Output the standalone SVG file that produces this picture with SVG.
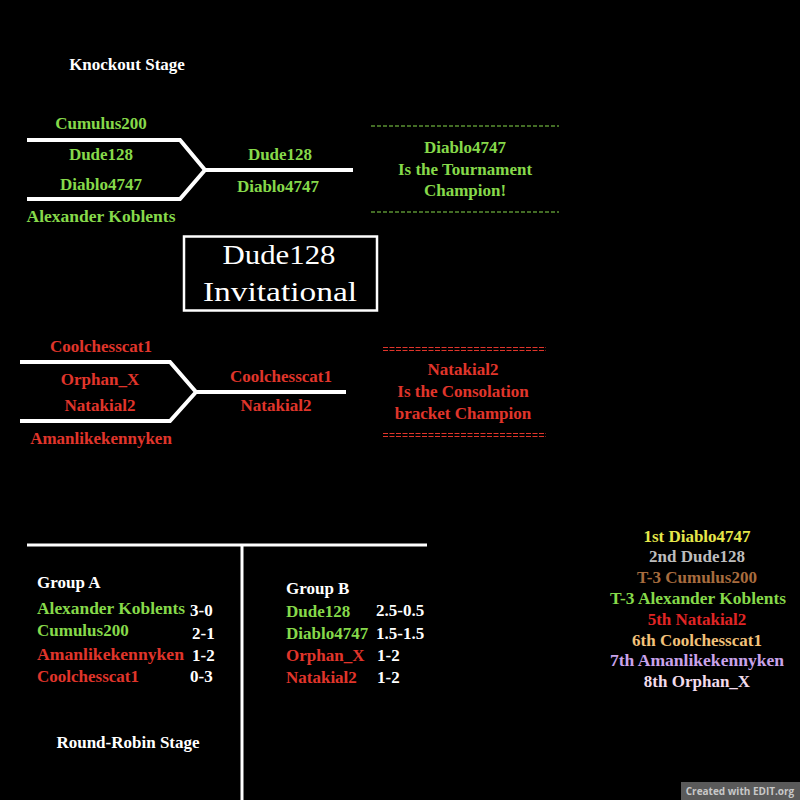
<svg xmlns="http://www.w3.org/2000/svg" width="800" height="800" viewBox="0 0 800 800">
<style>
text{font-family:"Liberation Serif","DejaVu Serif",serif;font-weight:bold;font-size:17px}
.c{text-anchor:middle}
.w{fill:#ffffff}
.g{fill:#86d94a}
.r{fill:#e0352b}
.br{fill:none;stroke:#ffffff;stroke-width:4;stroke-linejoin:miter}
.ln{stroke:#ffffff;stroke-width:3}
.title{font-weight:normal;font-size:27px;fill:#ffffff;text-anchor:middle}
</style>
<rect width="800" height="800" fill="#000000"/>

<g id="headings">
<text class="w c" x="127" y="70" font-size="16">Knockout Stage</text>
<text class="w c" x="128" y="748" font-size="16">Round-Robin Stage</text>
</g>

<g id="connectors">
<polyline class="br" points="27,140 180,140 205,170 180,199 27,199"/>
<line class="br" x1="205" y1="170" x2="353" y2="170"/>
<polyline class="br" points="20,362 170,362 196,392 170,421 20,421"/>
<line class="br" x1="196" y1="392" x2="346" y2="392"/>
<line class="ln" x1="27" y1="545" x2="427" y2="545"/>
<line class="ln" x1="242" y1="545" x2="242" y2="800"/>
</g>

<g id="main-bracket">
<text class="g c" x="101" y="129">Cumulus200</text>
<text class="g c" x="101" y="160">Dude128</text>
<text class="g c" x="101" y="190">Diablo4747</text>
<text class="g c" x="101" y="222" textLength="149" lengthAdjust="spacingAndGlyphs">Alexander Koblents</text>
<text class="g c" x="280" y="160">Dude128</text>
<text class="g c" x="278" y="192">Diablo4747</text>
</g>

<g id="champion">
<line x1="371" y1="126" x2="559" y2="126" stroke="#86d94a" stroke-width="1.2" stroke-dasharray="4,2"/>
<line x1="371" y1="212" x2="559" y2="212" stroke="#86d94a" stroke-width="1.2" stroke-dasharray="4,2"/>
<text class="g c" x="465" y="153">Diablo4747</text>
<text class="g c" x="465" y="175">Is the Tournament</text>
<text class="g c" x="465" y="196">Champion!</text>
</g>

<g id="title">
<rect x="184" y="236.5" width="193" height="74" fill="none" stroke="#ffffff" stroke-width="2.5"/>
<text class="title" x="279" y="264" textLength="113" lengthAdjust="spacingAndGlyphs">Dude128</text>
<text class="title" x="280" y="301" textLength="154" lengthAdjust="spacingAndGlyphs">Invitational</text>
</g>

<g id="consolation-bracket">
<text class="r c" x="101" y="352">Coolchesscat1</text>
<text class="r c" x="100" y="385">Orphan_X</text>
<text class="r c" x="100" y="411">Natakial2</text>
<text class="r c" x="101" y="444">Amanlikekennyken</text>
<text class="r c" x="281" y="382">Coolchesscat1</text>
<text class="r c" x="276" y="411">Natakial2</text>
</g>

<g id="consolation-champion">
<line x1="383" y1="347.5" x2="546" y2="347.5" stroke="#e0352b" stroke-width="1" stroke-dasharray="5,1.5"/>
<line x1="383" y1="350.5" x2="546" y2="350.5" stroke="#e0352b" stroke-width="1" stroke-dasharray="5,1.5"/>
<line x1="383" y1="433.5" x2="546" y2="433.5" stroke="#e0352b" stroke-width="1" stroke-dasharray="5,1.5"/>
<line x1="383" y1="436.5" x2="546" y2="436.5" stroke="#e0352b" stroke-width="1" stroke-dasharray="5,1.5"/>
<text class="r c" x="463" y="375">Natakial2</text>
<text class="r c" x="463" y="397">Is the Consolation</text>
<text class="r c" x="463" y="419">bracket Champion</text>
</g>

<g id="group-a">
<text class="w" x="37" y="588" font-size="16">Group A</text>
<text class="g" x="37" y="614" textLength="148" lengthAdjust="spacingAndGlyphs">Alexander Koblents</text>
<text class="w" x="190" y="616">3-0</text>
<text class="g" x="37" y="636">Cumulus200</text>
<text class="w" x="192" y="639">2-1</text>
<text class="r" x="37" y="660" textLength="147" lengthAdjust="spacingAndGlyphs">Amanlikekennyken</text>
<text class="w" x="192" y="661">1-2</text>
<text class="r" x="37" y="682">Coolchesscat1</text>
<text class="w" x="190" y="682">0-3</text>
</g>

<g id="group-b">
<text class="w" x="286" y="594" font-size="16">Group B</text>
<text class="g" x="286" y="617">Dude128</text>
<text class="w" x="376" y="616">2.5-0.5</text>
<text class="g" x="286" y="639">Diablo4747</text>
<text class="w" x="376" y="639">1.5-1.5</text>
<text class="r" x="286" y="661">Orphan_X</text>
<text class="w" x="377" y="661">1-2</text>
<text class="r" x="286" y="683">Natakial2</text>
<text class="w" x="377" y="683">1-2</text>
</g>

<g id="standings">
<text class="c" x="697" y="542" fill="#e6e84a">1st Diablo4747</text>
<text class="c" x="697" y="562" fill="#bdbdbd">2nd Dude128</text>
<text class="c" x="697" y="583" fill="#a86c3e">T-3 Cumulus200</text>
<text class="c" x="698" y="604" fill="#86d94a" textLength="176" lengthAdjust="spacingAndGlyphs">T-3 Alexander Koblents</text>
<text class="c" x="697" y="625" fill="#e02525">5th Natakial2</text>
<text class="c" x="697" y="646" fill="#f2c27a">6th Coolchesscat1</text>
<text class="c" x="697" y="666" fill="#c9a3ea" textLength="174" lengthAdjust="spacingAndGlyphs">7th Amanlikekennyken</text>
<text class="c" x="697" y="687" fill="#f2dcec">8th Orphan_X</text>
</g>

<g id="badge">
<rect x="681" y="782" width="119" height="18" fill="#5a5a5a"/>
<text x="740" y="795" text-anchor="middle" fill="#c8c8c8" style="font-family:'Open Sans','DejaVu Sans',sans-serif;font-size:10px;font-weight:bold">Created with EDIT.org</text>
</g>
</svg>
